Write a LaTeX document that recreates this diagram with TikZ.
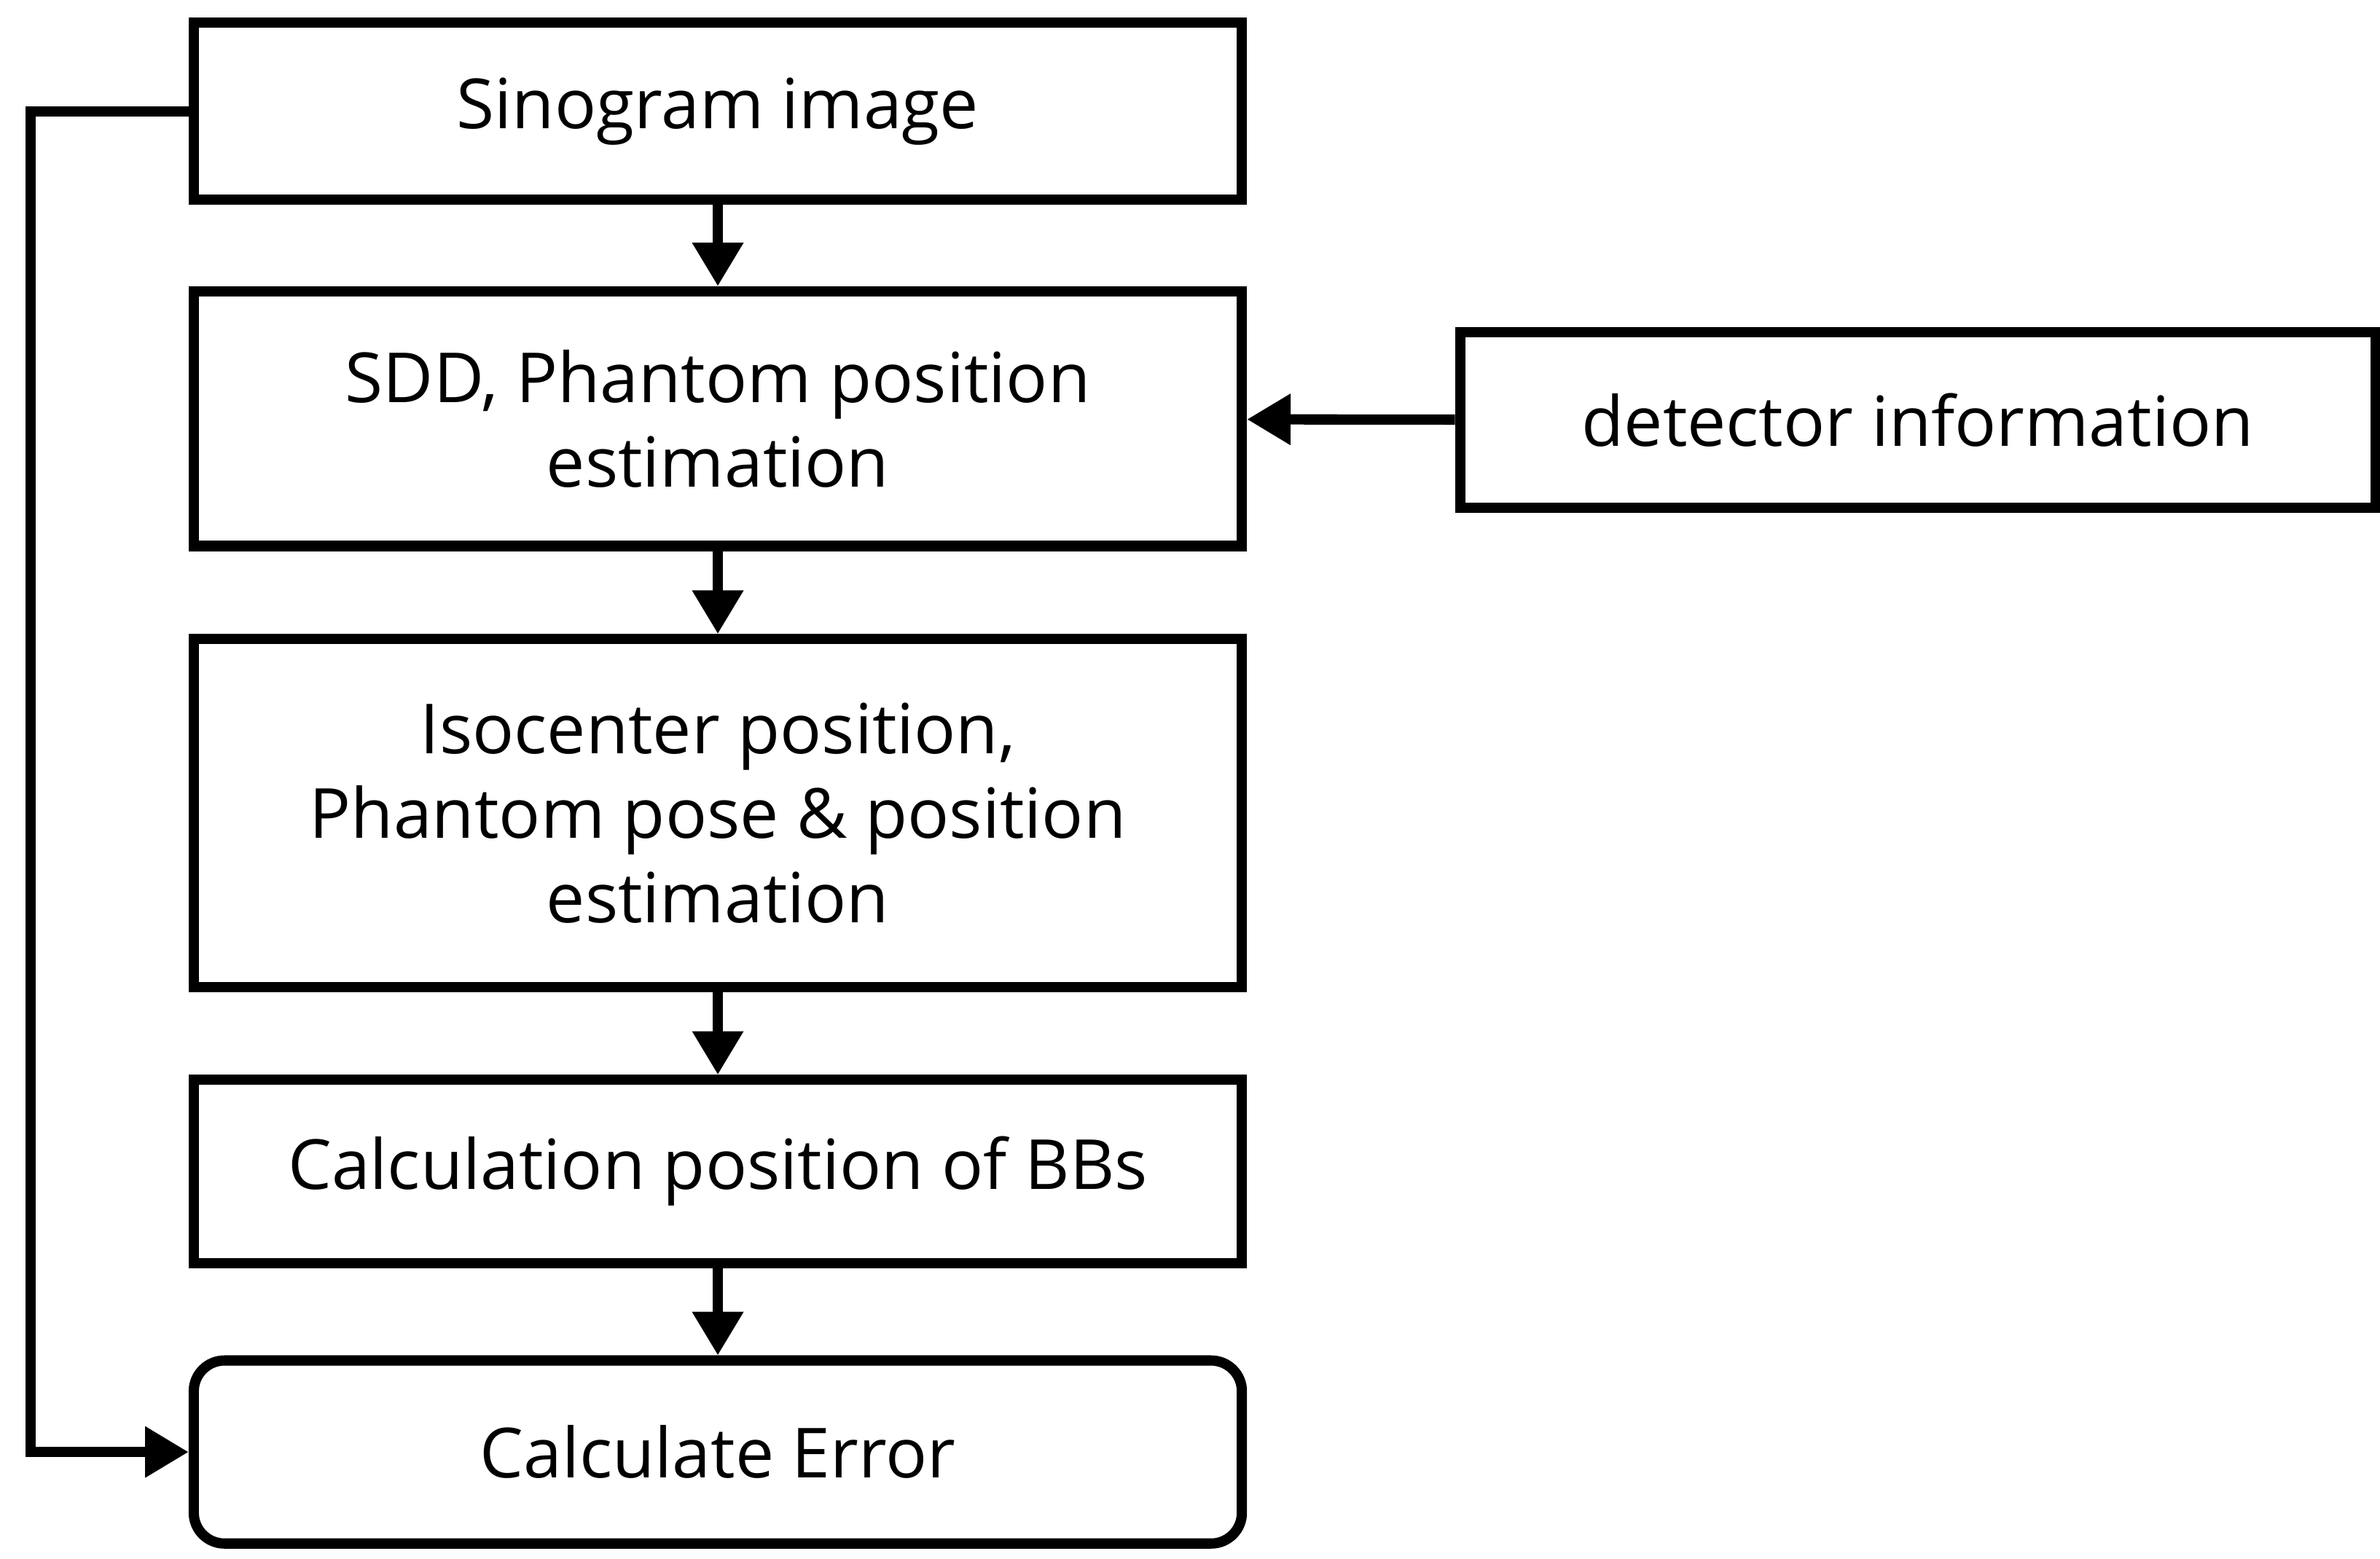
\documentclass[tikz,border=0pt]{standalone}
\usepackage{fontspec}
\setmainfont{Open Sans}
\usetikzlibrary{arrows.meta}
\begin{document}
\begin{tikzpicture}[x=0.02094cm,y=-0.02094cm,
  box/.style={draw,line width=4pt,minimum width=687*0.02094cm,align=center,font=\fontsize{27}{33}\selectfont,inner sep=0pt},
  arr/.style={line width=4pt,-{Triangle[length=17pt,width=19pt]}}]
\useasboundingbox (0,0) rectangle (1560,1022);
\node[box,minimum height=116*0.02094cm] (s) at (470.5,73) {Sinogram image};
\node[box,minimum height=167*0.02094cm] (d) at (470.5,274.5) {SDD, Phantom position\\estimation};
\node[box,minimum height=228*0.02094cm] (i) at (470.5,533) {Isocenter position,\\Phantom pose \& position\\estimation};
\node[box,minimum height=120*0.02094cm] (b) at (470.5,768) {Calculation position of BBs};
\node[box,rounded corners=12pt,minimum height=120*0.02094cm] (e) at (470.5,952) {Calculate Error};
\node[box,minimum width=600*0.02094cm,minimum height=115*0.02094cm] (t) at (1257,275.5) {detector information};
\draw[arr] (s) -- (d);
\draw[arr] (d) -- (i);
\draw[arr] (i) -- (b);
\draw[arr] (b) -- (e);
\draw[arr] (t) -- (d);
\coordinate (l1) at (20,73);
\coordinate (l2) at (20,952);
\draw[arr,line join=miter] (s.west) -- (l1) -- (l2) -- (e.west);
\end{tikzpicture}
\end{document}
